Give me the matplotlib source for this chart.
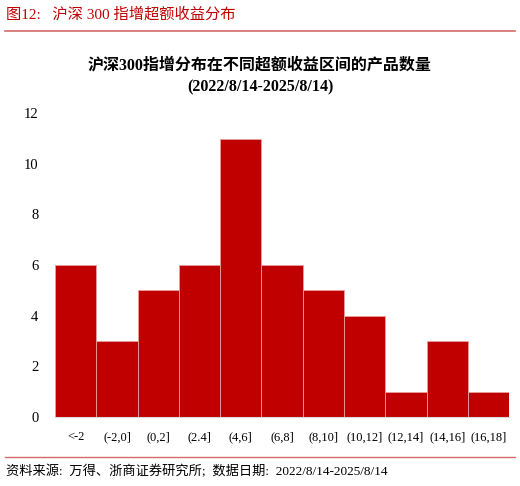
import matplotlib
matplotlib.use("Agg")
import matplotlib.pyplot as plt
from matplotlib.lines import Line2D

categories = ["<-2", "(-2,0]", "(0,2]", "(2.4]", "(4,6]", "(6,8]", "(8,10]",
              "(10,12]", "(12,14]", "(14,16]", "(16,18]"]
counts = [6, 3, 5, 6, 11, 6, 5, 4, 1, 3, 1]
yticks = [0, 2, 4, 6, 8, 10, 12]

FAM = ["Liberation Serif", "Noto Sans CJK SC"]
plt.rcParams["font.family"] = FAM
RED = "#C00000"

fig = plt.figure(figsize=(5.2, 4.86), dpi=100)
ax = fig.add_axes([0.106, 0.142, 0.873, 0.625])
x = list(range(len(categories)))
ax.bar(x, counts, width=1.0, color=RED, edgecolor="#E8A0A0", linewidth=0.6)
ax.set_xlim(-0.5, len(categories) - 0.5)
ax.set_ylim(0, 12)
ax.set_yticks(yticks)
ax.set_yticklabels([str(t) for t in yticks], fontsize=10.5)
ax.set_xticks(x)
ax.set_xticklabels(categories, fontsize=9)
ax.tick_params(axis="both", length=0)
ax.tick_params(axis="x", pad=10)
ax.tick_params(axis="y", pad=12)
for s in ["top", "right", "left"]:
    ax.spines[s].set_visible(False)
ax.spines["bottom"].set_color("#D9D9D9")

fig.text(0.5, 0.866, "沪深300指增分布在不同超额收益区间的产品数量", ha="center", va="center",
         fontsize=11.5, fontweight="bold")
fig.text(0.5, 0.821, "(2022/8/14-2025/8/14)", ha="center", va="center",
         fontsize=11.5, fontweight="bold")

fig.text(0.012, 0.971, "图12:   沪深 300 指增超额收益分布", ha="left", va="center",
         fontsize=11, color=RED)
fig.add_artist(Line2D([0.01, 0.99], [0.936, 0.936], color="#D46A6A", lw=1.2,
                      transform=fig.transFigure))
fig.add_artist(Line2D([0.01, 0.99], [0.06, 0.06], color="#D46A6A", lw=1.0,
                      transform=fig.transFigure))
fig.text(0.012, 0.029, "资料来源:  万得、浙商证券研究所;  数据日期:  2022/8/14-2025/8/14",
         ha="left", va="center", fontsize=9.5)

fig.savefig("out.png", dpi=100)
